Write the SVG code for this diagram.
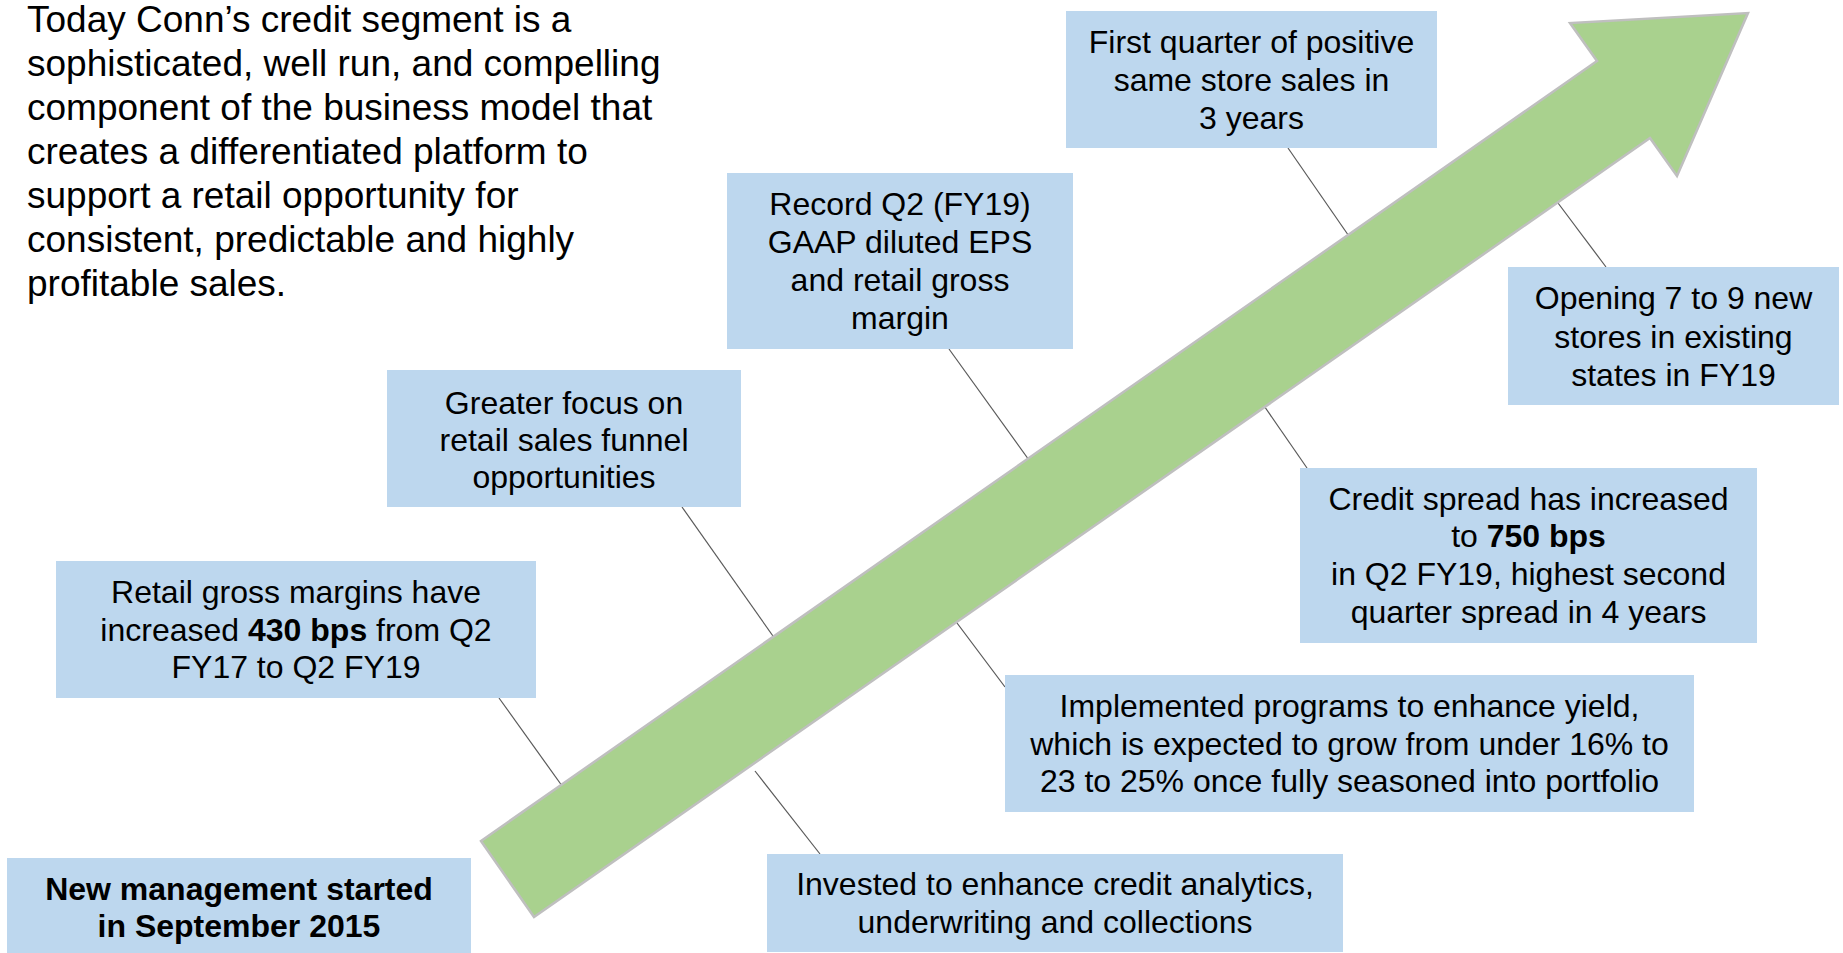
<svg xmlns="http://www.w3.org/2000/svg" width="1843" height="953" viewBox="0 0 1843 953">
  <style>
    .box { fill: #BDD7EE; }
    .t { font-family: "Liberation Sans", Arial, sans-serif; font-size: 32px; fill: #000000; text-anchor: middle; }
    .main { font-family: "Liberation Sans", Arial, sans-serif; font-size: 37px; fill: #000000; }
    .b { font-weight: bold; }
    .conn { stroke: #595959; stroke-width: 1.2; fill: none; }
    .arrow { fill: #A9D18E; stroke: #BFBFBF; stroke-width: 2.5; stroke-linejoin: miter; }
  </style>
  <rect width="1843" height="953" fill="#FFFFFF"/>

  <g id="intro">
    <text class="main" x="27" y="32">Today Conn’s credit segment is a</text>
    <text class="main" x="27" y="76">sophisticated, well run, and compelling</text>
    <text class="main" x="27" y="120">component of the business model that</text>
    <text class="main" x="27" y="164">creates a differentiated platform to</text>
    <text class="main" x="27" y="208">support a retail opportunity for</text>
    <text class="main" x="27" y="252">consistent, predictable and highly</text>
    <text class="main" x="27" y="296">profitable sales.</text>
  </g>

  <g id="connectors">
    <line class="conn" x1="499" y1="698" x2="565" y2="790"/>
    <line class="conn" x1="682" y1="507" x2="780" y2="646"/>
    <line class="conn" x1="949" y1="349" x2="1034" y2="467"/>
    <line class="conn" x1="1288" y1="148" x2="1353" y2="242"/>
    <line class="conn" x1="1606" y1="267" x2="1552" y2="195"/>
    <line class="conn" x1="1307" y1="468" x2="1260" y2="400"/>
    <line class="conn" x1="1005" y1="687" x2="951" y2="615"/>
    <line class="conn" x1="820" y1="854" x2="755" y2="771"/>
  </g>

  <g id="arrow">
    <polygon class="arrow" points="481,841 1597,61 1570,23 1748,13 1677,176 1650,138 534,917"/>
  </g>

  <g id="node-first-quarter">
    <rect class="box" x="1066" y="11" width="371" height="137"/>
    <text class="t" x="1251.5" y="53">First quarter of positive</text>
    <text class="t" x="1251.5" y="91">same store sales in</text>
    <text class="t" x="1251.5" y="129">3 years</text>
  </g>

  <g id="node-record-q2">
    <rect class="box" x="727" y="173" width="346" height="176"/>
    <text class="t" x="900" y="215">Record Q2 (FY19)</text>
    <text class="t" x="900" y="253">GAAP diluted EPS</text>
    <text class="t" x="900" y="291">and retail gross</text>
    <text class="t" x="900" y="329">margin</text>
  </g>

  <g id="node-greater-focus">
    <rect class="box" x="387" y="370" width="354" height="137"/>
    <text class="t" x="564" y="414">Greater focus on</text>
    <text class="t" x="564" y="451">retail sales funnel</text>
    <text class="t" x="564" y="488">opportunities</text>
  </g>

  <g id="node-opening">
    <rect class="box" x="1508" y="267" width="331" height="138"/>
    <text class="t" x="1673.5" y="309">Opening 7 to 9 new</text>
    <text class="t" x="1673.5" y="348">stores in existing</text>
    <text class="t" x="1673.5" y="386">states in FY19</text>
  </g>

  <g id="node-credit-spread">
    <rect class="box" x="1300" y="468" width="457" height="175"/>
    <text class="t" x="1528.5" y="510">Credit spread has increased</text>
    <text class="t" x="1528.5" y="547">to <tspan class="b">750 bps</tspan></text>
    <text class="t" x="1528.5" y="585">in Q2 FY19, highest second</text>
    <text class="t" x="1528.5" y="623">quarter spread in 4 years</text>
  </g>

  <g id="node-retail-margins">
    <rect class="box" x="56" y="561" width="480" height="137"/>
    <text class="t" x="296" y="603">Retail gross margins have</text>
    <text class="t" x="296" y="641">increased <tspan class="b">430 bps</tspan> from Q2</text>
    <text class="t" x="296" y="678">FY17 to Q2 FY19</text>
  </g>

  <g id="node-implemented">
    <rect class="box" x="1005" y="675" width="689" height="137"/>
    <text class="t" x="1349.5" y="717">Implemented programs to enhance yield,</text>
    <text class="t" x="1349.5" y="755">which is expected to grow from under 16% to</text>
    <text class="t" x="1349.5" y="792">23 to 25% once fully seasoned into portfolio</text>
  </g>

  <g id="node-invested">
    <rect class="box" x="767" y="854" width="576" height="98"/>
    <text class="t" x="1055" y="895">Invested to enhance credit analytics,</text>
    <text class="t" x="1055" y="933">underwriting and collections</text>
  </g>

  <g id="node-new-management">
    <rect class="box" x="7" y="858" width="464" height="95"/>
    <text class="t b" x="239" y="900">New management started</text>
    <text class="t b" x="239" y="937">in September 2015</text>
  </g>
</svg>
